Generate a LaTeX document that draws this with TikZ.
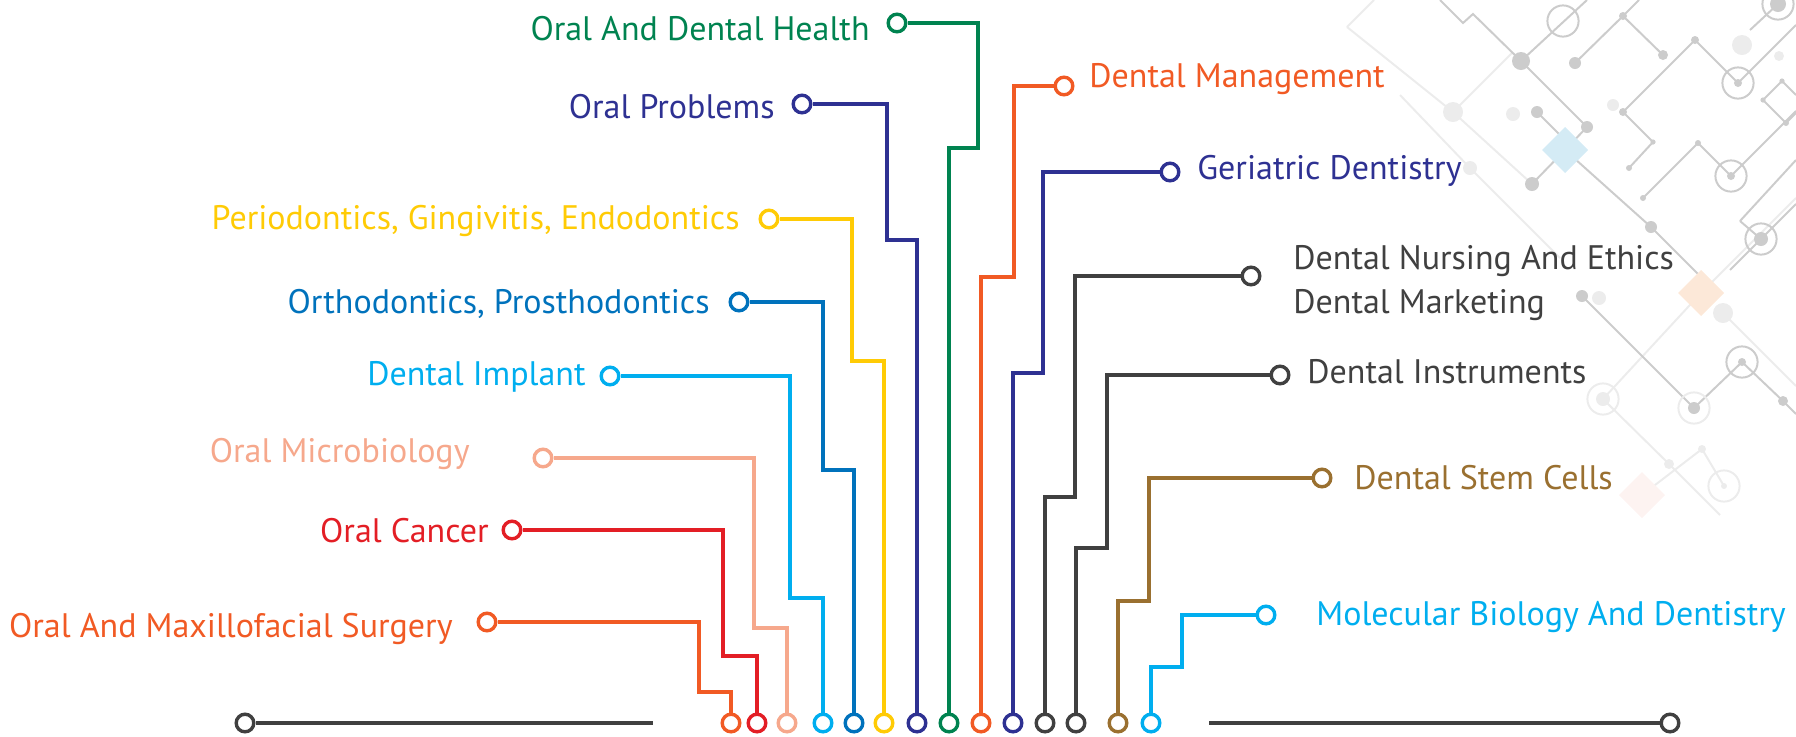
\documentclass[tikz,border=0pt]{standalone}
\usepackage{fontspec}
\setmainfont{PT Sans}
\usetikzlibrary{positioning}
\usetikzlibrary{calc}
\definecolor{healthgreen}{RGB}{0,131,80}
\definecolor{indigo}{RGB}{46,49,146}
\definecolor{sunyellow}{RGB}{255,203,5}
\definecolor{deepblue}{RGB}{0,114,188}
\definecolor{skyblue}{RGB}{0,174,239}
\definecolor{salmon}{RGB}{246,168,140}
\definecolor{crimson}{RGB}{227,30,37}
\definecolor{tangerine}{RGB}{241,90,36}
\definecolor{charcoal}{RGB}{64,64,64}
\definecolor{bronze}{RGB}{154,112,48}
\definecolor{bgline}{RGB}{204,204,204}
\definecolor{bgfaint}{RGB}{236,236,236}
\definecolor{icecyan}{RGB}{212,235,245}
\definecolor{peach}{RGB}{252,232,216}
\definecolor{blush}{RGB}{253,243,241}
\tikzset{
    % A circuit-board style track from a topic down to the base row
    track/.style={line width=2pt, line join=miter},
%
    % The small open ring at either end of a track
    pin ring/.style={
        circle, draw, fill=white, line width=1.7pt,
        minimum size=8.8pt, inner sep=0},
%
    % Text of a topic
    topic/.style={inner sep=0, font=\fontsize{17}{22}\selectfont},
%
    % Faint lines of the decoration in the corner
    deco line/.style={draw=bgline, line width=1pt},
    deco faint/.style={draw=bgfaint, line width=1pt}}

\begin{document}
\begin{tikzpicture}[x=0.5pt, y=-0.5pt]

\useasboundingbox (0,0) rectangle (1796,736);

% Circuit decoration, top right corner

\path [deco faint]
    (1347,27) -- (1374,0)
    (1347,27) -- (1453,112) -- (1532,184)
    (1400,95) -- (1470,168) -- (1560,258)
    (1453,112) -- (1513,52)
    (1603,399) -- (1669,464) -- (1720,515)
    (1701,293) -- (1796,198)
    (1701,293) -- (1603,399)
    (1723,313) -- (1796,386)
    (1642,495) -- (1702,449) -- (1724,486);
\path [deco line]
    (1440,0) -- (1463,23) -- (1473,14) -- (1521,61) -- (1587,127) -- (1565,150) -- (1532,184)
    (1521,61) -- (1587,0)
    (1575,63) -- (1623,16) -- (1639,0)
    (1623,16) -- (1663,55)
    (1565,150) -- (1651,227) -- (1700,276)
    (1537,112) -- (1565,140)
    (1623,112) -- (1695,40) -- (1738,83) -- (1796,25)
    (1623,112) -- (1653,142) -- (1629,168)
    (1643,198) -- (1698,143) -- (1731,176) -- (1796,111)
    (1740,221) -- (1761,239) -- (1796,204)
    (1761,239) -- (1730,270)
    (1750,30) -- (1778,4)
    (1796,160) -- (1740,221)
    (1763,100) -- (1782,81) -- (1796,95)
    (1763,100) -- (1786,123) -- (1796,113)
    (1582,296) -- (1694,408) -- (1742,362) -- (1783,401) -- (1796,414);

\fill [bgfaint]
    (1453,112) circle (5pt) (1513,114) circle (3.5pt) (1613,105) circle (3pt)
    (1470,168) circle (3.5pt) (1742,45) circle (5pt) (1779,56) circle (2.5pt)
    (1723,313) circle (5pt) (1599,298) circle (3.5pt) (1669,464) circle (2.5pt)
    (1702,449) circle (2pt) (1603,399) circle (3.5pt) (1724,486) circle (1.5pt);
\fill [bgline]
    (1521,61) circle (4.5pt) (1575,63) circle (3pt) (1623,16) circle (2pt)
    (1663,55) circle (2.5pt) (1695,40) circle (2pt) (1587,127) circle (3pt)
    (1537,112) circle (3pt) (1532,184) circle (3.5pt) (1651,227) circle (3pt)
    (1623,112) circle (2pt) (1653,142) circle (1.3pt) (1629,168) circle (1.5pt)
    (1698,143) circle (1.5pt) (1643,198) circle (1.5pt) (1782,81) circle (1.3pt)
    (1763,100) circle (1.3pt) (1786,123) circle (1.5pt) (1582,296) circle (3pt)
    (1783,401) circle (2.5pt) (1738,83) circle (2pt) (1731,176) circle (2pt)
    (1761,239) circle (3.5pt) (1778,4) circle (4pt) (1694,408) circle (3pt)
    (1742,362) circle (2pt);
\path [deco line]
    (1563,21) circle (7.8pt) (1738,83) circle (7.8pt) (1731,176) circle (7.8pt)
    (1761,239) circle (7.8pt) (1778,4) circle (7.8pt) (1742,362) circle (7.8pt);
\path [deco faint]
    (1694,408) circle (7.8pt) (1603,399) circle (7.8pt) (1724,486) circle (7.8pt);

\fill [icecyan] (1565,127) -- (1588,150) -- (1565,173) -- (1542,150) -- cycle;
\fill [peach] (1701,270) -- (1724,293) -- (1701,316) -- (1678,293) -- cycle;
\fill [blush] (1642,472) -- (1665,495) -- (1642,518) -- (1619,495) -- cycle;

% Topics on the left

\node [topic, text=healthgreen, anchor=base east] (health) at (870,40) {Oral And Dental Health};
\node [topic, text=indigo, anchor=base east] (problems) at (775,118) {Oral Problems};
\node [topic, text=sunyellow, anchor=base east] (perio) at (740,229) {Periodontics, Gingivitis, Endodontics};
\node [topic, text=deepblue, anchor=base east] (ortho) at (710,313) {Orthodontics, Prosthodontics};
\node [topic, text=skyblue, anchor=base east] (implant) at (586,385) {Dental Implant};
\node [topic, text=salmon, anchor=base east] (micro) at (470,462) {Oral Microbiology};
\node [topic, text=crimson, anchor=base east] (cancer) at (489,542) {Oral Cancer};
\node [topic, text=tangerine, anchor=base east] (surgery) at (453,637) {Oral And Maxillofacial Surgery};

\node [pin ring, draw=healthgreen] (health-pin) at (897,23) {};
\node [pin ring, draw=indigo] (problems-pin) at (802,104) {};
\node [pin ring, draw=sunyellow] (perio-pin) at (769,219) {};
\node [pin ring, draw=deepblue] (ortho-pin) at (739,302) {};
\node [pin ring, draw=skyblue] (implant-pin) at (610,376) {};
\node [pin ring, draw=salmon] (micro-pin) at (543,458) {};
\node [pin ring, draw=crimson] (cancer-pin) at (512,530) {};
\node [pin ring, draw=tangerine] (surgery-pin) at (487,622) {};

% Topics on the right

\node [topic, text=tangerine, anchor=base west] (management) at (1089,87) {Dental Management};
\node [topic, text=indigo, anchor=base west] (geriatric) at (1197,179) {Geriatric Dentistry};
\node [topic, text=charcoal, anchor=base west, align=left] (nursing) at (1293,313)
    {Dental Nursing And Ethics\\Dental Marketing};
\node [topic, text=charcoal, anchor=base west] (instruments) at (1307,383) {Dental Instruments};
\node [topic, text=bronze, anchor=base west] (stemcells) at (1354,489) {Dental Stem Cells};
\node [topic, text=skyblue, anchor=base west] (molecular) at (1316,625) {Molecular Biology And Dentistry};

\node [pin ring, draw=tangerine] (management-pin) at (1064,86) {};
\node [pin ring, draw=indigo] (geriatric-pin) at (1170,172) {};
\node [pin ring, draw=charcoal] (nursing-pin) at (1251,276) {};
\node [pin ring, draw=charcoal] (instruments-pin) at (1280,375) {};
\node [pin ring, draw=bronze] (stemcells-pin) at (1322,478) {};
\node [pin ring, draw=skyblue] (molecular-pin) at (1266,615) {};

% Base row

\node [pin ring, draw=tangerine] (surgery-foot) at (731,723) {};
\node [pin ring, draw=crimson] (cancer-foot) at (757,723) {};
\node [pin ring, draw=salmon] (micro-foot) at (787,723) {};
\node [pin ring, draw=skyblue] (implant-foot) at (823,723) {};
\node [pin ring, draw=deepblue] (ortho-foot) at (854,723) {};
\node [pin ring, draw=sunyellow] (perio-foot) at (884,723) {};
\node [pin ring, draw=indigo] (problems-foot) at (917,723) {};
\node [pin ring, draw=healthgreen] (health-foot) at (949,723) {};
\node [pin ring, draw=tangerine] (management-foot) at (981,723) {};
\node [pin ring, draw=indigo] (geriatric-foot) at (1013,723) {};
\node [pin ring, draw=charcoal] (nursing-foot) at (1045,723) {};
\node [pin ring, draw=charcoal] (instruments-foot) at (1076,723) {};
\node [pin ring, draw=bronze] (stemcells-foot) at (1118,723) {};
\node [pin ring, draw=skyblue] (molecular-foot) at (1151,723) {};

\node [pin ring, draw=charcoal] (base-left) at (245,723) {};
\node [pin ring, draw=charcoal] (base-right) at (1670,723) {};
\coordinate (base-left-end) at (653,723);
\coordinate (base-right-end) at (1209,723);

% Tracks

\draw [track, healthgreen] (health-pin) -| (978,148) -| (health-foot);
\draw [track, indigo] (problems-pin) -| (887,240) -| (problems-foot);
\draw [track, sunyellow] (perio-pin) -| (852,361) -| (perio-foot);
\draw [track, deepblue] (ortho-pin) -| (823,470) -| (ortho-foot);
\draw [track, skyblue] (implant-pin) -| (790,598) -| (implant-foot);
\draw [track, salmon] (micro-pin) -| (754,628) -| (micro-foot);
\draw [track, crimson] (cancer-pin) -| (723,656) -| (cancer-foot);
\draw [track, tangerine] (surgery-pin) -| (699,692) -| (surgery-foot);

\draw [track, tangerine] (management-pin) -| (1014,277) -| (management-foot);
\draw [track, indigo] (geriatric-pin) -| (1043,373) -| (geriatric-foot);
\draw [track, charcoal] (nursing-pin) -| (1075,497) -| (nursing-foot);
\draw [track, charcoal] (instruments-pin) -| (1107,548) -| (instruments-foot);
\draw [track, bronze] (stemcells-pin) -| (1149,601) -| (stemcells-foot);
\draw [track, skyblue] (molecular-pin) -| (1182,667) -| (molecular-foot);

\draw [track, charcoal, line width=2.2pt] (base-left) -- (base-left-end);
\draw [track, charcoal, line width=2.2pt] (base-right-end) -- (base-right);

\end{tikzpicture}
\end{document}
